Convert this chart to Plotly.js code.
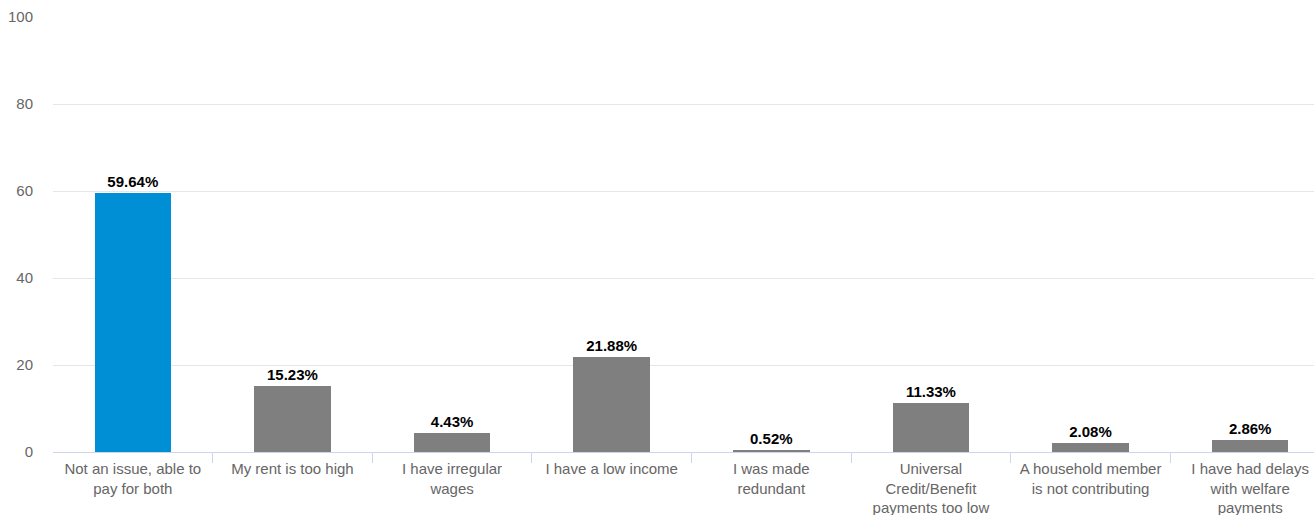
<!DOCTYPE html>
<html>
<head>
<meta charset="utf-8">
<script src="https://cdn.plot.ly/plotly-3.0.1.min.js"></script>
<style>html,body{margin:0;padding:0;background:#fff;overflow:hidden}#chart{width:1314px;height:515px}</style>
</head>
<body>
<div id="chart"></div>
<script>
const categories = [
  "Not an issue, able to<br>pay for both",
  "My rent is too high",
  "I have irregular<br>wages",
  "I have a low income",
  "I was made<br>redundant",
  "Universal<br>Credit/Benefit<br>payments too low",
  "A household member<br>is not contributing",
  "I have had delays<br>with welfare<br>payments"
];
const values = [59.64, 15.23, 4.43, 21.88, 0.52, 11.33, 2.08, 2.86];
const barColors = ["#008fd5", "#7f7f7f", "#7f7f7f", "#7f7f7f", "#7f7f7f", "#7f7f7f", "#7f7f7f", "#7f7f7f"];
const yTicks = [0, 20, 40, 60, 80, 100];

const idx = categories.map((c, i) => i);
const boundaries = categories.slice(0, -1).map((c, i) => i + 0.5);

const trace = {
  type: "bar",
  x: idx,
  y: values,
  width: 0.48,
  marker: {color: barColors, line: {width: 0}},
  text: values.map(v => "<b>" + v.toFixed(2) + "%</b>"),
  textposition: "outside",
  cliponaxis: false,
  textfont: {family: "Liberation Sans, Arial, sans-serif", size: 15, color: "#000"},
  hoverinfo: "none"
};
const tickTrace = {
  type: "scatter", x: [0], y: [0], xaxis: "x2", yaxis: "y",
  mode: "markers", marker: {opacity: 0}, hoverinfo: "none", showlegend: false
};

const layout = {
  width: 1314, height: 515,
  margin: {l: 53, r: 0, t: 17, b: 63},
  paper_bgcolor: "#fff", plot_bgcolor: "#fff",
  showlegend: false,
  bargap: 0,
  font: {family: "Liberation Sans, Arial, sans-serif", size: 15, color: "#666"},
  xaxis: {
    range: [-0.5, 7.4],
    tickmode: "array", tickvals: idx, ticktext: categories,
    ticks: "", showgrid: false, zeroline: false,
    showline: true, linecolor: "#ccd6eb", linewidth: 1,
    ticklabelstandoff: 3,
    tickfont: {size: 15, color: "#666"},
    fixedrange: true
  },
  xaxis2: {
    overlaying: "x", range: [-0.5, 7.4],
    tickmode: "array", tickvals: boundaries,
    ticks: "outside", ticklen: 10, tickcolor: "#ccd6eb", tickwidth: 1,
    showticklabels: false, showgrid: false, zeroline: false, showline: false,
    side: "bottom", anchor: "y"
  },
  yaxis: {
    range: [0, 100],
    tickmode: "array", tickvals: yTicks,
    showgrid: true, gridcolor: "#e6e6e6", gridwidth: 1,
    zeroline: false, showline: false, ticks: "",
    ticklabelstandoff: 19,
    tickfont: {size: 15, color: "#666"}
  }
};

Plotly.newPlot("chart", [trace, tickTrace], layout, {displayModeBar: false, staticPlot: true});
</script>
</body>
</html>
